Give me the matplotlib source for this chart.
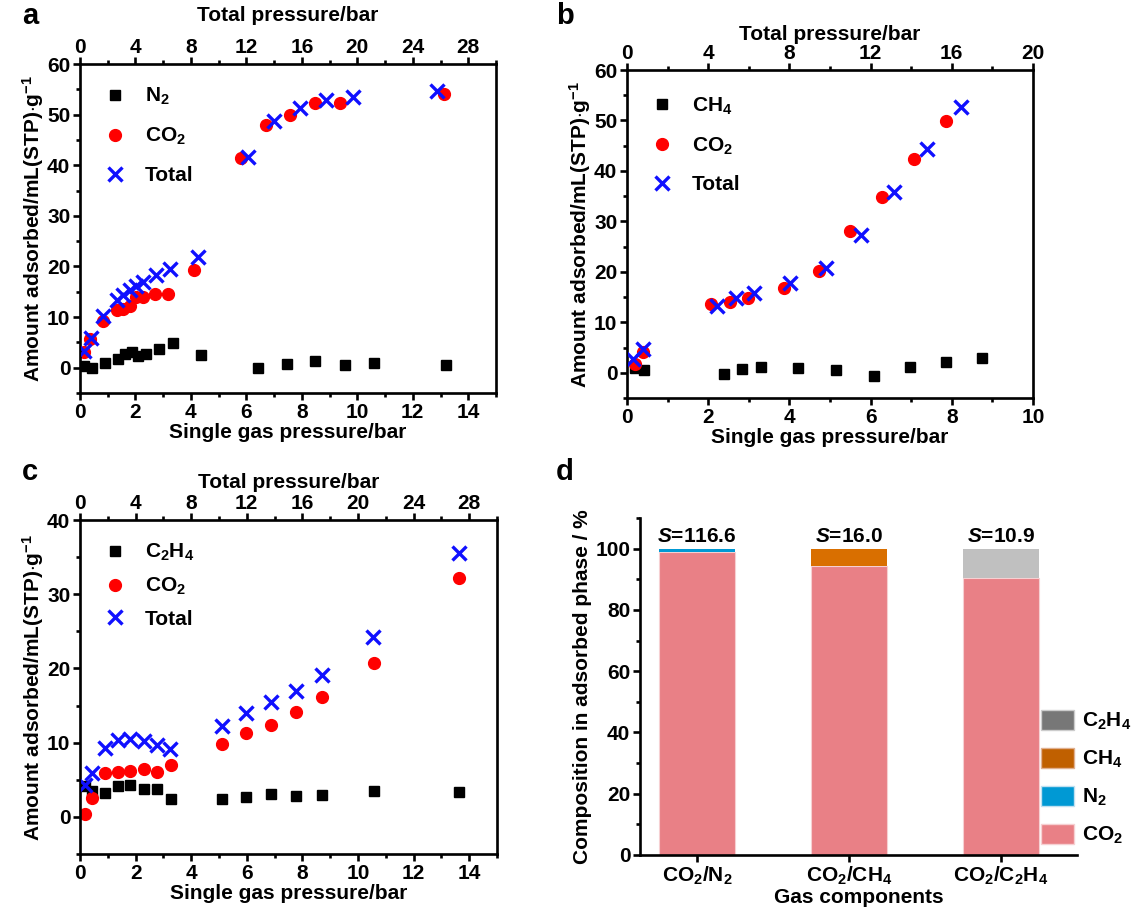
import matplotlib
matplotlib.use("Agg")
import matplotlib.pyplot as plt
from matplotlib.ticker import MultipleLocator
from matplotlib.patches import Patch

plt.rcParams['font.family'] = ['Liberation Sans', 'DejaVu Sans']
plt.rcParams['font.weight'] = 'bold'
plt.rcParams['axes.labelweight'] = 'bold'
plt.rcParams['mathtext.fontset'] = 'custom'
plt.rcParams['mathtext.rm'] = 'Liberation Sans:bold'
plt.rcParams['mathtext.bf'] = 'Liberation Sans:bold'
plt.rcParams['mathtext.it'] = 'Liberation Sans:bold:italic'
plt.rcParams['mathtext.default'] = 'rm'

# ---------------- Panel a: CO2/N2 ----------------
a_n2_x = [0.15, 0.45, 0.9, 1.38, 1.62, 1.87, 2.1, 2.37, 2.86, 3.36, 4.37, 6.42, 7.45, 8.49, 9.55, 10.6, 13.18]
a_n2_y = [0.3, 0.0, 0.85, 1.8, 2.7, 3.1, 2.3, 2.7, 3.6, 4.8, 2.5, 0.0, 0.65, 1.3, 0.45, 1.0, 0.45]
a_co2_x = [0.15, 0.37, 0.84, 1.32, 1.55, 1.79, 2.02, 2.27, 2.72, 3.19, 4.11, 5.8, 6.69, 7.59, 8.49, 9.37, 13.12]
a_co2_y = [3.1, 5.7, 9.15, 11.3, 11.6, 12.1, 13.9, 14.05, 14.5, 14.5, 19.3, 41.5, 48.0, 49.9, 52.3, 52.3, 54.1]
a_tot_x = [0.29, 0.78, 1.68, 2.64, 3.09, 3.58, 4.03, 4.55, 5.49, 6.5, 8.51, 12.09, 14.0, 15.9, 17.76, 19.7, 25.75]
a_tot_y = [3.3, 5.9, 10.3, 13.4, 14.4, 15.4, 16.1, 17.0, 18.3, 19.4, 21.9, 41.6, 48.7, 51.3, 52.9, 53.4, 54.7]

# ---------------- Panel b: CO2/CH4 ----------------
b_ch4_x = [0.19, 0.43, 2.38, 2.83, 3.3, 4.21, 5.15, 6.09, 6.96, 7.85, 8.74]
b_ch4_y = [1.0, 0.6, -0.2, 0.7, 1.1, 1.0, 0.46, -0.6, 1.1, 2.05, 2.85]
b_co2_x = [0.19, 0.39, 2.06, 2.53, 2.98, 3.87, 4.72, 5.49, 6.28, 7.06, 7.86]
b_co2_y = [1.8, 4.1, 13.6, 14.0, 14.9, 16.8, 20.2, 28.1, 34.8, 42.4, 49.9]
b_tot_x = [0.30, 0.80, 4.45, 5.36, 6.26, 8.04, 9.81, 11.52, 13.16, 14.79, 16.45]
b_tot_y = [2.8, 4.8, 13.2, 14.8, 15.9, 17.8, 20.7, 27.4, 35.8, 44.4, 52.6]

# ---------------- Panel c: CO2/C2H4 ----------------
c_c2h4_x = [0.17, 0.42, 0.89, 1.36, 1.81, 2.3, 2.76, 3.26, 5.09, 5.98, 6.87, 7.78, 8.69, 10.56, 13.64]
c_c2h4_y = [4.15, 3.5, 3.25, 4.15, 4.3, 3.8, 3.7, 2.35, 2.35, 2.7, 3.07, 2.85, 3.0, 3.5, 3.3]
c_co2_x = [0.17, 0.42, 0.89, 1.36, 1.81, 2.3, 2.76, 3.26, 5.09, 5.98, 6.87, 7.78, 8.69, 10.56, 13.64]
c_co2_y = [0.36, 2.5, 5.96, 6.1, 6.2, 6.4, 6.1, 6.96, 9.85, 11.3, 12.4, 14.1, 16.1, 20.7, 32.2]
c_tot_x = [0.33, 0.84, 1.78, 2.71, 3.62, 4.6, 5.51, 6.51, 10.18, 11.96, 13.73, 15.56, 17.38, 21.1, 27.3]
c_tot_y = [4.3, 5.9, 9.26, 10.4, 10.5, 10.25, 9.7, 9.17, 12.2, 14.0, 15.45, 16.9, 19.1, 24.2, 35.5]

# ---------------- Panel d: composition ----------------
d_categories = ['CO$_2$/N$_2$', 'CO$_2$/CH$_4$', 'CO$_2$/C$_2$H$_4$']
d_co2 = [98.8, 94.4, 90.5]
d_n2 = [1.2, 0.0, 0.0]
d_ch4 = [0.0, 5.6, 0.0]
d_c2h4 = [0.0, 0.0, 9.5]
d_sel = ['116.6', '16.0', '10.9']

W, H = 1132, 915
fig = plt.figure(figsize=(W / 100, H / 100), dpi=100)

def rect(l, r, t, b):
    return [l / W, 1 - b / H, (r - l) / W, (b - t) / H]

FS = 15
SP_LW = 1.9

def style_axis(ax, top=None):
    for s in ax.spines.values():
        s.set_linewidth(SP_LW)
    ax.tick_params(which='major', direction='out', length=5, width=SP_LW, labelsize=FS, pad=2)
    ax.tick_params(which='minor', direction='out', length=3, width=SP_LW)
    ax.tick_params(right=False, which='both')
    if top is not None:
        top.tick_params(which='major', direction='out', length=5, width=SP_LW, labelsize=FS, pad=0)
        top.tick_params(which='minor', direction='out', length=3, width=SP_LW)
        top.tick_params(right=False, which='both')

def iso_panel(r, gas_label, gx, gy, cx, cy, tx, ty, xmax, ymax, tmax, xmaj, ymaj, tmaj,
              letter, lx, ly, toppad, legend_kw):
    ax = fig.add_axes(rect(*r))
    h1, = ax.plot(gx, gy, 's', color='black', ms=7, ls='none', label=gas_label)
    h2, = ax.plot(cx, cy, 'o', color='#ff0000', ms=8.5, ls='none', label='CO$_2$')
    ax.set_xlim(0, xmax)
    ax.set_ylim(-5, ymax)
    ax.xaxis.set_major_locator(MultipleLocator(xmaj))
    ax.xaxis.set_minor_locator(MultipleLocator(xmaj / 2))
    ax.yaxis.set_major_locator(MultipleLocator(ymaj))
    ax.yaxis.set_minor_locator(MultipleLocator(ymaj / 2))
    ax.set_yticks(list(range(0, ymax + 1, ymaj)))
    ax.set_xlabel('Single gas pressure/bar', fontsize=FS, labelpad=1)
    ax.set_ylabel(r'Amount adsorbed/mL(STP)$\cdot$g$^{-1}$', fontsize=FS, labelpad=1)
    top = ax.twiny()
    h3, = top.plot(tx, ty, 'x', color='#1010ff', ms=10, mew=2.4, ls='none', label='Total')
    top.set_xlim(0, tmax)
    top.xaxis.set_major_locator(MultipleLocator(tmaj))
    top.xaxis.set_minor_locator(MultipleLocator(tmaj / 2))
    top.set_xlabel('Total pressure/bar', fontsize=FS, labelpad=toppad)
    style_axis(ax, top)
    top.legend(handles=[h1, h2, h3], frameon=False, fontsize=FS, **legend_kw)
    fig.text(lx / W, 1 - ly / H, letter, fontsize=21, fontweight='bold', ha='left', va='center')
    return ax

iso_panel((80, 496, 64, 393), 'N$_2$', a_n2_x, a_n2_y, a_co2_x, a_co2_y, a_tot_x, a_tot_y,
          15, 60, 30, 2, 10, 4, 'a', 22, 16, 12,
          dict(loc='upper left', bbox_to_anchor=(0.0, 0.99), labelspacing=0.9, handletextpad=0.6, handlelength=1.6))
iso_panel((627, 1033, 70, 398), 'CH$_4$', b_ch4_x, b_ch4_y, b_co2_x, b_co2_y, b_tot_x, b_tot_y,
          10, 60, 20, 2, 10, 4, 'b', 556, 16, 3,
          dict(loc='upper left', bbox_to_anchor=(0.0, 0.98), labelspacing=0.9, handletextpad=0.6, handlelength=1.6))
iso_panel((80, 497, 520, 854), 'C$_2$H$_4$', c_c2h4_x, c_c2h4_y, c_co2_x, c_co2_y, c_tot_x, c_tot_y,
          15, 40, 30, 2, 10, 4, 'c', 22, 472, 4,
          dict(loc='upper left', bbox_to_anchor=(0.0, 0.99), labelspacing=0.6, handletextpad=0.6, handlelength=1.6))

# ---------------- Panel d ----------------
axd = fig.add_axes(rect(640, 1077, 518, 855))
xpos = list(range(len(d_categories)))
bw = 0.5
c_co2 = '#e98086'
c_n2 = '#0099d4'
c_ch4 = '#d96f00'
c_c2h4 = '#c0c0c0'
ec = '#f6d0d2'
axd.bar(xpos, d_co2, bw, color=c_co2, edgecolor=ec, linewidth=0.8)
axd.bar(xpos, d_n2, bw, bottom=d_co2, color=c_n2, edgecolor='none')
axd.bar(xpos, d_ch4, bw, bottom=d_co2, color=c_ch4, edgecolor='none')
axd.bar(xpos, d_c2h4, bw, bottom=d_co2, color=c_c2h4, edgecolor='none')
for i, s in enumerate(d_sel):
    tot = d_co2[i] + d_n2[i] + d_ch4[i] + d_c2h4[i]
    axd.text(xpos[i], tot + 1.0, r'$\mathit{S}$=' + s, ha='center', va='bottom', fontsize=FS, fontweight='bold')
axd.set_xlim(-0.375, 2.5)
axd.set_ylim(0, 110)
axd.yaxis.set_major_locator(MultipleLocator(20))
axd.yaxis.set_minor_locator(MultipleLocator(10))
axd.set_yticks([0, 20, 40, 60, 80, 100])
axd.set_xticks(xpos)
axd.set_xticklabels(d_categories)
axd.spines['top'].set_visible(False)
axd.spines['right'].set_visible(False)
for s in ('left', 'bottom'):
    axd.spines[s].set_linewidth(SP_LW)
axd.tick_params(which='major', direction='out', length=5, width=SP_LW, labelsize=FS, pad=2)
axd.tick_params(which='minor', direction='out', length=3, width=SP_LW)
axd.tick_params(axis='x', which='minor', bottom=False)
axd.set_xlabel('Gas components', fontsize=FS, labelpad=1)
axd.set_ylabel('Composition in adsorbed phase / %', fontsize=FS, labelpad=2)
leg_handles = [Patch(facecolor='#777777', edgecolor='#cccccc', label='C$_2$H$_4$'),
               Patch(facecolor='#c06000', edgecolor='#e0b090', label='CH$_4$'),
               Patch(facecolor='#0099d4', edgecolor='#c0e0f0', label='N$_2$'),
               Patch(facecolor=c_co2, edgecolor=ec, label='CO$_2$')]
fig.legend(handles=leg_handles, frameon=False, fontsize=FS, loc='lower left',
           bbox_to_anchor=(1041 / W, 1 - 846 / H), handlelength=1.6, handleheight=1.1,
           handletextpad=0.35, labelspacing=0.75, borderaxespad=0, borderpad=0)
fig.text(556 / W, 1 - 472 / H, 'd', fontsize=21, fontweight='bold', ha='left', va='center')

fig.savefig('out.png', dpi=100)
